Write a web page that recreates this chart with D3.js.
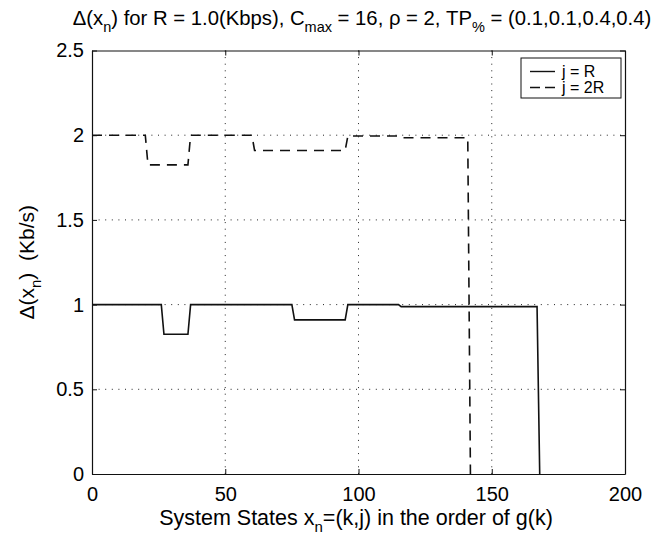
<!DOCTYPE html>
<html>
<head>
<meta charset="utf-8">
<script src="https://cdn.jsdelivr.net/npm/d3@7"></script>
<style>
  body { margin: 0; background: #fff; }
  text { font-family: "Liberation Sans", Arial, sans-serif; fill: #000; }
</style>
</head>
<body>
<svg id="chart" width="665" height="540"></svg>
<script>
// system states x_n and Delta(x_n) in Kb/s
let statesR = [0, 26, 27, 36, 37, 75, 76, 95, 96, 115, 116, 167, 168];
let deltaR = [1, 1, 0.825, 0.825, 1, 1, 0.91, 0.91, 1, 1, 0.988, 0.988, 0];

let states2R = [0, 20, 21, 36, 37, 60, 61, 95, 96, 115, 116, 141, 142];
let delta2R = [2, 2, 1.825, 1.825, 2, 2, 1.91, 1.91, 1.995, 1.995, 1.985, 1.985, 0];

let xTicks = [0, 50, 100, 150, 200];
let yTicks = [0, 0.5, 1, 1.5, 2, 2.5];
let legendLabels = ["j = R", "j = 2R"];

const margin = { top: 50.5, right: 40, bottom: 66, left: 92 };
const width = 665 - margin.left - margin.right;
const height = 540 - margin.top - margin.bottom;

const svg = d3.select("#chart");
const graph = svg.append("g")
    .attr("transform", `translate(${margin.left}, ${margin.top})`);

const x = d3.scaleLinear().domain([0, 200]).range([0, width]);
const y = d3.scaleLinear().domain([0, 2.5]).range([height, 0]);

// dotted grid
graph.append("g")
    .selectAll("line")
    .data(xTicks.slice(1, -1))
    .join("line")
    .attr("x1", d => x(d)).attr("x2", d => x(d))
    .attr("y1", 0).attr("y2", height)
    .attr("stroke", "#222").attr("stroke-width", 1)
    .attr("stroke-dasharray", "1,5.6");

graph.append("g")
    .selectAll("line")
    .data(yTicks.slice(1, -1))
    .join("line")
    .attr("x1", 0).attr("x2", width)
    .attr("y1", d => y(d)).attr("y2", d => y(d))
    .attr("stroke", "#222").attr("stroke-width", 1)
    .attr("stroke-dasharray", "1,5.6");

// axes, ticks pointing inward like matlab
function styleAxis(g) {
    g.select(".domain").attr("stroke", "#111").attr("stroke-width", 1.2);
    g.selectAll(".tick line").attr("stroke", "#111").attr("stroke-width", 1);
    g.selectAll(".tick text").attr("font-size", 20).attr("fill", "#000");
}

const xAxis = graph.append("g")
    .attr("transform", `translate(0, ${height})`)
    .call(d3.axisBottom(x).tickValues(xTicks).tickSizeInner(-5).tickSizeOuter(0).tickPadding(13))
    .call(styleAxis);
xAxis.selectAll(".tick text").attr("dy", "0.71em");

graph.append("g")
    .call(d3.axisTop(x).tickValues(xTicks).tickSizeInner(-5).tickSizeOuter(0).tickFormat(""))
    .call(styleAxis);

graph.append("g")
    .call(d3.axisLeft(y).tickValues(yTicks).tickSizeInner(-5).tickSizeOuter(0).tickPadding(8)
        .tickFormat(d3.format("")))
    .call(styleAxis);

graph.append("g")
    .attr("transform", `translate(${width}, 0)`)
    .call(d3.axisRight(y).tickValues(yTicks).tickSizeInner(-5).tickSizeOuter(0).tickFormat(""))
    .call(styleAxis);

// lines
const line = d3.line()
    .x(d => x(d[0]))
    .y(d => y(d[1]));

graph.append("path")
    .datum(d3.zip(statesR, deltaR))
    .attr("fill", "none")
    .attr("stroke", "#111")
    .attr("stroke-width", 1.6)
    .attr("d", line);

graph.append("path")
    .datum(d3.zip(states2R, delta2R))
    .attr("fill", "none")
    .attr("stroke", "#111")
    .attr("stroke-width", 1.6)
    .attr("stroke-dasharray", "10,7")
    .attr("d", line);

// legend
const legend = graph.append("g")
    .attr("transform", `translate(${width - 104}, 7.5)`);

legend.append("rect")
    .attr("width", 100).attr("height", 40)
    .attr("fill", "#fff").attr("stroke", "#111").attr("stroke-width", 1);

legendLabels.forEach((lab, i) => {
    legend.append("line")
        .attr("x1", 9).attr("x2", 34)
        .attr("y1", 13.5 + i * 16).attr("y2", 13.5 + i * 16)
        .attr("stroke", "#111").attr("stroke-width", 1.4)
        .attr("stroke-dasharray", i == 0 ? null : "10,5");
    legend.append("text")
        .attr("x", 41).attr("y", 13.5 + i * 16)
        .attr("dy", "0.36em")
        .attr("font-size", 16)
        .text(lab);
});

// title
const title = svg.append("text")
    .attr("x", 362)
    .attr("y", 25)
    .attr("text-anchor", "middle")
    .attr("font-size", 20.3);
title.append("tspan").text("Δ(x");
title.append("tspan").attr("font-size", 14.5).attr("dy", 7).text("n");
title.append("tspan").attr("dy", -7).text(") for R = 1.0(Kbps), C");
title.append("tspan").attr("font-size", 14.5).attr("dy", 7).text("max");
title.append("tspan").attr("dy", -7).text(" = 16, ρ = 2, TP");
title.append("tspan").attr("font-size", 14.5).attr("dy", 7).text("%");
title.append("tspan").attr("dy", -7).text(" = (0.1,0.1,0.4,0.4)");

// x label
const xLabel = svg.append("text")
    .attr("x", 356)
    .attr("y", 525)
    .attr("text-anchor", "middle")
    .attr("font-size", 21.5);
xLabel.append("tspan").text("System States x");
xLabel.append("tspan").attr("font-size", 15).attr("dy", 7).text("n");
xLabel.append("tspan").attr("dy", -7).text("=(k,j) in the order of g(k)");

// y label
const yLabel = svg.append("text")
    .attr("transform", `translate(34, ${margin.top + height / 2}) rotate(-90)`)
    .attr("text-anchor", "middle")
    .attr("font-size", 21);
yLabel.append("tspan").text("Δ(x");
yLabel.append("tspan").attr("font-size", 15).attr("dy", 7).text("n");
yLabel.append("tspan").attr("dy", -7).attr("xml:space", "preserve").text(")  (Kb/s)");
</script>
</body>
</html>
